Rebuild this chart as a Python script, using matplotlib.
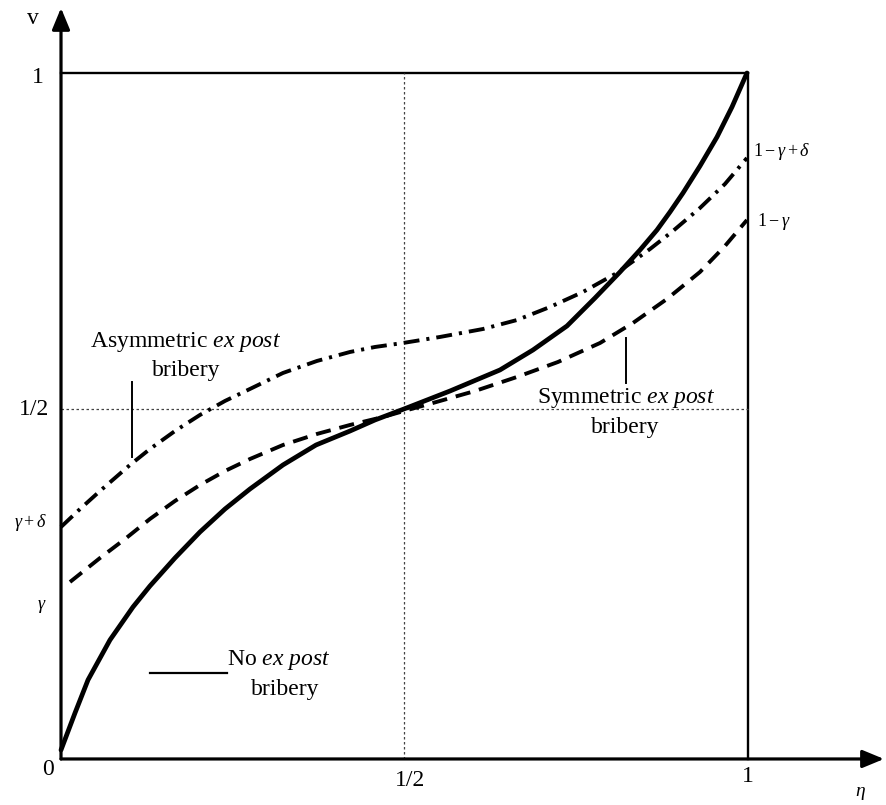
import matplotlib
matplotlib.use("Agg")
import matplotlib.pyplot as plt

plt.rcParams['font.family'] = ['Liberation Serif', 'DejaVu Serif']
plt.rcParams['mathtext.fontset'] = 'custom'
plt.rcParams['mathtext.rm'] = 'Liberation Serif'
plt.rcParams['mathtext.it'] = 'Liberation Serif:italic'
plt.rcParams['mathtext.bf'] = 'Liberation Serif:bold'

# ---- data (eta, v) ----
no_bribery_x = [0.0, 0.0204, 0.0393, 0.0713, 0.1048, 0.1295, 0.1659, 0.2023, 0.2387,
                0.2751, 0.3231, 0.3712, 0.4207, 0.4571, 0.4993, 0.5662, 0.6390, 0.6870,
                0.7365, 0.7773, 0.8137, 0.8428, 0.8675, 0.8865, 0.9054, 0.9301, 0.9549,
                0.9767, 0.9985]
no_bribery_y = [0.0131, 0.0671, 0.1152, 0.1735, 0.2216, 0.2522, 0.2930, 0.3309, 0.3644,
                0.3936, 0.4286, 0.4577, 0.4781, 0.4942, 0.5102, 0.5364, 0.5671, 0.5962,
                0.6312, 0.6720, 0.7099, 0.7420, 0.7711, 0.7974, 0.8251, 0.8644, 0.9067,
                0.9504, 1.0]

asym_x = [0.0, 0.0277, 0.0568, 0.1004, 0.1295, 0.1659, 0.2023, 0.2387, 0.2751, 0.3231,
          0.3726, 0.4207, 0.4571, 0.4978, 0.5517, 0.6143, 0.6638, 0.7118, 0.7598, 0.8093,
          0.8574, 0.8908, 0.9301, 0.9665, 0.9985]
asym_y = [0.3382, 0.3644, 0.3907, 0.4286, 0.4519, 0.4781, 0.5015, 0.5219, 0.5394, 0.5627,
          0.5802, 0.5933, 0.6006, 0.6064, 0.6152, 0.6268, 0.6399, 0.6589, 0.6808, 0.7085,
          0.7434, 0.7697, 0.8032, 0.8382, 0.8761]

sym_x = [0.0131, 0.0568, 0.0932, 0.1295, 0.1659, 0.2023, 0.2387, 0.2751, 0.3231, 0.3726,
         0.4207, 0.4687, 0.4993, 0.5415, 0.6026, 0.6638, 0.7234, 0.7846, 0.8326, 0.8821,
         0.9301, 0.9665, 0.9985]
sym_y = [0.2580, 0.2930, 0.3207, 0.3499, 0.3761, 0.3994, 0.4198, 0.4373, 0.4577, 0.4738,
         0.4869, 0.4985, 0.5073, 0.5190, 0.5364, 0.5569, 0.5787, 0.6064, 0.6356, 0.6706,
         0.7099, 0.7478, 0.7857]

half_level = 0.51
y_tick_labels = ["0", r"$\gamma$", r"$\gamma+\delta$", "1/2", "1"]
x_tick_labels = ["1/2", "1"]
right_labels = [r"$1-\gamma+\delta$", r"$1-\gamma$"]

fig = plt.figure(figsize=(8.86, 8.05), dpi=100)
ax = fig.add_axes([0, 0, 1, 1])
ax.set_xlim(-0.0888, 1.2009)
ax.set_ylim(-0.0671, 1.1064)
ax.axis('off')

# axes with arrows
arrow_kw = dict(arrowstyle='-|>,head_length=0.87,head_width=0.36',
                mutation_scale=15, lw=2.3, color='k', shrinkA=0, shrinkB=0)
ax.annotate('', xy=(0, 1.0948), xytext=(0, 0), arrowprops=arrow_kw)
ax.annotate('', xy=(1.198, 0), xytext=(0, 0), arrowprops=arrow_kw)

# box lines
ax.plot([0, 1], [1, 1], color='k', lw=1.7)
ax.plot([1, 1], [0, 1], color='k', lw=1.7)

# dotted guides
ax.plot([0.5, 0.5], [0, 1], color='#444444', lw=0.9, linestyle=(0, (2, 2)))
ax.plot([0, 1], [half_level, half_level], color='#444444', lw=0.9, linestyle=(0, (2, 2)))

# curves
ax.plot(no_bribery_x, no_bribery_y, color='k', lw=3.4, solid_capstyle='round',
        solid_joinstyle='round')
ax.plot(sym_x, sym_y, color='k', lw=2.8, linestyle=(0, (3.9, 2.3)),
        dash_joinstyle='round')
ax.plot(asym_x, asym_y, color='k', lw=2.8, linestyle=(0, (4.1, 1.8, 0.8, 1.8)),
        dash_joinstyle='round')

# axis labels
ax.text(-0.0408, 1.080, "v", fontsize=17, ha='center', va='center')
ax.text(1.163, -0.050, r"$\eta$", fontsize=14, ha='center', va='center')

# y tick labels
ax.text(-0.019, -0.016, y_tick_labels[0], fontsize=17, ha='center', va='center')
ax.text(-0.0277, 0.222, y_tick_labels[1], fontsize=13, ha='center', va='center')
ax.text(-0.0437, 0.345, y_tick_labels[2], fontsize=13, ha='center', va='center')
ax.text(-0.039, half_level, y_tick_labels[3], fontsize=17, ha='center', va='center')
ax.text(-0.0335, 0.994, y_tick_labels[4], fontsize=17, ha='center', va='center')

# x tick labels
ax.text(0.508, -0.031, x_tick_labels[0], fontsize=17, ha='center', va='center')
ax.text(1.0, -0.026, x_tick_labels[1], fontsize=17, ha='center', va='center')

# right labels
ax.text(1.007, 0.885, right_labels[0], fontsize=13, ha='left', va='center')
ax.text(1.013, 0.783, right_labels[1], fontsize=13, ha='left', va='center')

# annotations
ax.text(0.182, 0.608, r"Asymmetric $\mathit{ex\ post}$", fontsize=17, ha='center', va='center')
ax.text(0.182, 0.567, "bribery", fontsize=17, ha='center', va='center')
ax.plot([0.1033, 0.1033], [0.4402, 0.5496], color='k', lw=1.4)

ax.text(0.822, 0.526, r"Symmetric $\mathit{ex\ post}$", fontsize=17, ha='center', va='center')
ax.text(0.822, 0.4825, "bribery", fontsize=17, ha='center', va='center')
ax.plot([0.822, 0.822], [0.548, 0.6137], color='k', lw=1.4)

ax.plot([0.1295, 0.2416], [0.1254, 0.1254], color='k', lw=1.6)
ax.text(0.2416, 0.1443, r"No $\mathit{ex\ post}$", fontsize=17, ha='left', va='center')
ax.text(0.326, 0.1006, "bribery", fontsize=17, ha='center', va='center')

fig.savefig("out.png", dpi=100)
